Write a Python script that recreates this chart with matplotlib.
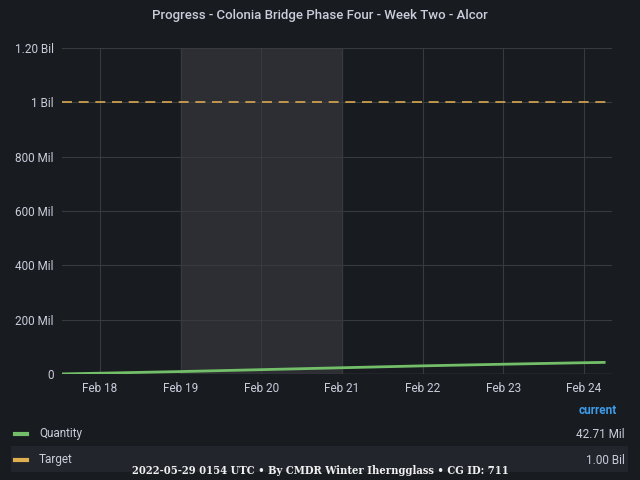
import matplotlib
matplotlib.use("Agg")
import matplotlib.pyplot as plt
import matplotlib.dates as mdates
import datetime as dt

plt.rcParams['font.family'] = ['Roboto', 'DejaVu Sans']

times = ["2022-02-17 12:00", "2022-02-18 00:00", "2022-02-19 00:00", "2022-02-20 00:00",
         "2022-02-21 00:00", "2022-02-22 00:00", "2022-02-23 00:00", "2022-02-24 00:00",
         "2022-02-24 06:00"]
quantity = [0.2e6, 3e6, 9e6, 16e6, 23e6, 30e6, 36e6, 41.5e6, 42.71e6]
target = 1.0e9
yticks = [0, 200e6, 400e6, 600e6, 800e6, 1e9, 1.2e9]
ylabels = ["0", "200 Mil", "400 Mil", "600 Mil", "800 Mil", "1 Bil", "1.20 Bil"]

bg = "#181b1f"
fg = "#ccccdc"
t = [dt.datetime.strptime(s, "%Y-%m-%d %H:%M") for s in times]
xmin = dt.datetime(2022, 2, 17, 12, 40)
xmax = dt.datetime(2022, 2, 24, 8, 20)

fig = plt.figure(figsize=(6.4, 4.8), dpi=100, facecolor=bg)
ax = fig.add_axes([62/640, 1-374/480, 550/640, 326/480], facecolor=bg)
ax.axvspan(dt.datetime(2022, 2, 19), dt.datetime(2022, 2, 21), color="#2c2e33", zorder=0)
ax.plot(t, quantity, color="#73bf69", lw=2, zorder=3)
ax.axhline(target, color="#d8a850", lw=1.2, ls=(0, (6, 4)), zorder=3)
ax.set_xlim(xmin, xmax)
ax.set_ylim(0, 1.2e9)
ax.set_yticks(yticks)
ax.set_yticklabels(ylabels)
ax.xaxis.set_major_locator(mdates.DayLocator())
ax.xaxis.set_major_formatter(plt.FuncFormatter(
    lambda v, p: mdates.num2date(v).strftime("%b ") + str(mdates.num2date(v).day)))
ax.grid(True, color="#373a3f", lw=0.8, zorder=1)
for s in ax.spines.values():
    s.set_visible(False)
ax.axhline(0, color="#44474c", lw=1, zorder=2)
ax.tick_params(colors=fg, labelsize=8.5, length=0, pad=6)

fig.text(0.5, 1-16/480, "Progress - Colonia Bridge Phase Four - Week Two - Alcor", color=fg,
         ha="center", va="center", fontsize=9.5, fontweight="medium")

fig.text(617/640, 1-410/480, "current", color="#3d9be9", ha="right", va="center", fontsize=8.5, fontweight="bold")
fig.patches.append(plt.Rectangle((11/640, 1-472/480), 617/640, 26/480, transform=fig.transFigure,
                                 facecolor="#22252b", edgecolor="none"))
rows = [("Quantity", "#73bf69", "42.71 Mil", 434), ("Target", "#e0b050", "1.00 Bil", 460)]
for name, c, val, y in rows:
    yy = 1 - y/480
    fig.lines.append(plt.Line2D([15/640, 27/640], [yy, yy], color=c, lw=3, transform=fig.transFigure))
    fig.text(39/640, yy, name, color=fg, va="center", fontsize=8.5)
    fig.text(625/640, yy, val, color=fg, va="center", ha="right", fontsize=8.5)

fig.text(0.5, 1-471/480, "2022-05-29 0154 UTC • By CMDR Winter Iherngglass • CG ID: 711",
         color="#f0f0f0", ha="center", va="center", fontsize=8, fontweight="bold",
         family="DejaVu Serif", fontstretch="condensed")
fig.savefig("out.png", dpi=100, facecolor=bg)
